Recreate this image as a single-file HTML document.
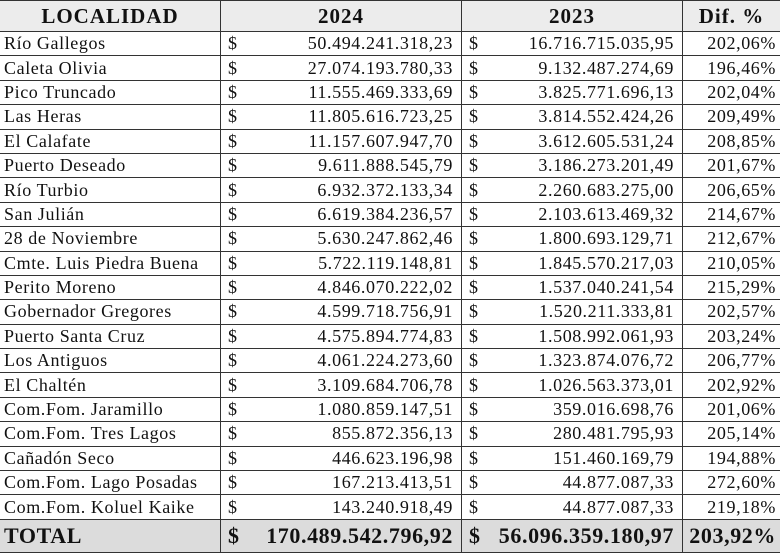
<!DOCTYPE html>
<html><head><meta charset="utf-8"><style>
body{margin:0;width:780px;height:552px;overflow:hidden;background:#fff;font-family:"Liberation Serif",serif;color:#111}
table{border-collapse:collapse;table-layout:fixed;width:781px;position:absolute;left:-1px;top:0}
td{border:1px solid #333;padding:0 4px;white-space:nowrap;font-size:18px;letter-spacing:0.6px;height:23.4px;line-height:23px;overflow:hidden}
tr.h td{background:#ececec;font-weight:bold;font-size:21px;letter-spacing:1px;height:30px;text-align:center}
tr.t td{background:#dcdcdc;font-weight:bold;font-size:22px;letter-spacing:0.6px;height:32px}
.d{text-align:left;width:10px;border-right:none;padding-left:7px}
.n{text-align:right;border-left:none;padding-right:8px}
.p{text-align:right}
</style></head><body>
<table>
<colgroup><col style="width:221px"><col style="width:30px"><col style="width:211px"><col style="width:30px"><col style="width:191px"><col style="width:98px"></colgroup>
<tr class="h"><td>LOCALIDAD</td><td colspan="2">2024</td><td colspan="2">2023</td><td>Dif. %</td></tr>
<tbody id="b"></tbody>
<tr class="t"><td>TOTAL</td><td class="d">$</td><td class="n">170.489.542.796,92</td><td class="d">$</td><td class="n">56.096.359.180,97</td><td class="p">203,92%</td></tr>
</table>
<script>
const names=["Río Gallegos","Caleta Olivia","Pico Truncado","Las Heras","El Calafate","Puerto Deseado","Río Turbio","San Julián","28 de Noviembre","Cmte. Luis Piedra Buena","Perito Moreno","Gobernador Gregores","Puerto Santa Cruz","Los Antiguos","El Chaltén","Com.Fom. Jaramillo","Com.Fom. Tres Lagos","Cañadón Seco","Com.Fom. Lago Posadas","Com.Fom. Koluel Kaike"];
const v2024=["50.494.241.318,23","27.074.193.780,33","11.555.469.333,69","11.805.616.723,25","11.157.607.947,70","9.611.888.545,79","6.932.372.133,34","6.619.384.236,57","5.630.247.862,46","5.722.119.148,81","4.846.070.222,02","4.599.718.756,91","4.575.894.774,83","4.061.224.273,60","3.109.684.706,78","1.080.859.147,51","855.872.356,13","446.623.196,98","167.213.413,51","143.240.918,49"];
const v2023=["16.716.715.035,95","9.132.487.274,69","3.825.771.696,13","3.814.552.424,26","3.612.605.531,24","3.186.273.201,49","2.260.683.275,00","2.103.613.469,32","1.800.693.129,71","1.845.570.217,03","1.537.040.241,54","1.520.211.333,81","1.508.992.061,93","1.323.874.076,72","1.026.563.373,01","359.016.698,76","280.481.795,93","151.460.169,79","44.877.087,33","44.877.087,33"];
const dif=["202,06%","196,46%","202,04%","209,49%","208,85%","201,67%","206,65%","214,67%","212,67%","210,05%","215,29%","202,57%","203,24%","206,77%","202,92%","201,06%","205,14%","194,88%","272,60%","219,18%"];
const b=document.getElementById('b');
names.forEach((n,i)=>{
const tr=document.createElement('tr');


tr.innerHTML='<td>'+n+'</td><td class="d">$</td><td class="n">'+v2024[i]+'</td><td class="d">$</td><td class="n">'+v2023[i]+'</td><td class="p">'+dif[i]+'</td>';
b.appendChild(tr);
});
</script>
</body></html>
